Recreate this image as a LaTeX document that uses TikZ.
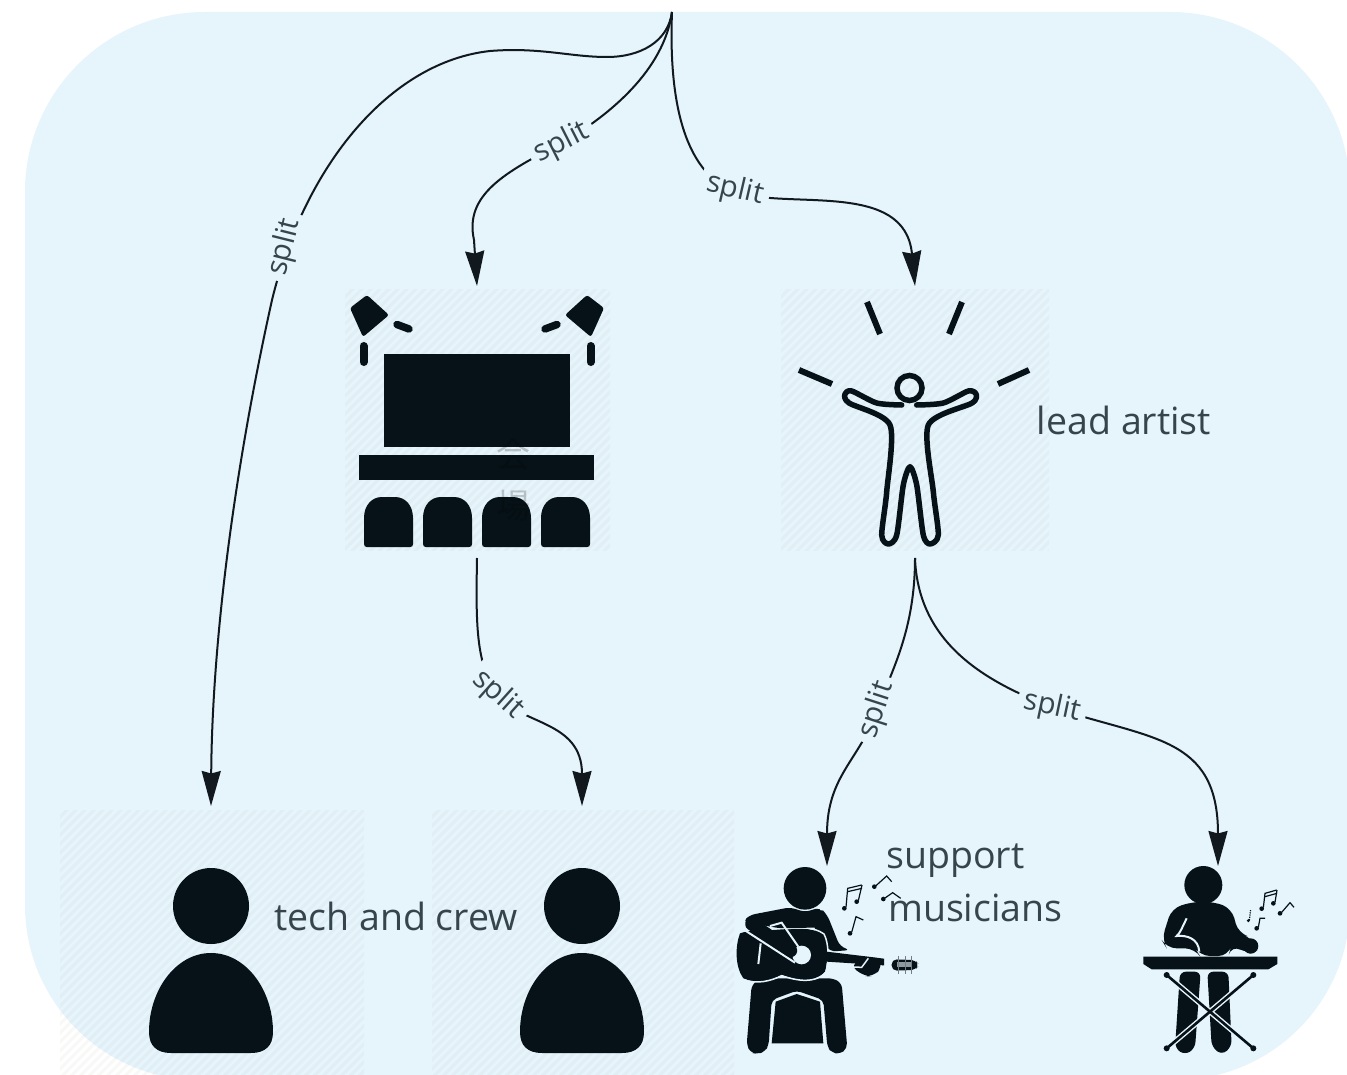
\documentclass[tikz,border=0pt]{standalone}
\usepackage{fontspec}
\setmainfont{Open Sans}
\newfontfamily\cjkfont{Noto Sans CJK JP}
\usetikzlibrary{arrows.meta}
\definecolor{panel}{HTML}{E6F4FC}
\definecolor{ink}{HTML}{061218}
\definecolor{wire}{HTML}{11191E}
\definecolor{label}{HTML}{36444C}
\definecolor{hatchc}{HTML}{A89F90}
\newcommand{\hatchbox}[4]{%
  \begin{scope}
    \clip (#1,#2) rectangle (#3,#4);
    \foreach \k in {0,9,...,1500}{
      \draw[hatchc,opacity=.07,line width=3pt] ({#1+\k},#2-2) -- ({#1+\k-400},#2+398);
    }
  \end{scope}}
\newcommand{\singlenote}[6]{%
  \fill[ink] (#1,#2) circle (7);
  \draw[ink,line width=1.2pt] (#1+5,#2-3) -- (#3,#4) -- (#5,#6);}
\tikzset{
  conn/.style={draw=wire,line width=2pt,-{Stealth[length=35pt,width=19pt,inset=2.5pt]}},
  tile/.style={draw=none,fill=none,inner sep=0pt,outer sep=0pt},
  splitlabel/.style={fill=panel,text=label,font=\fontsize{29.5}{32}\selectfont,inner xsep=6pt,inner ysep=2pt},
  biglabel/.style={text=label,font=\fontsize{37.5}{42}\selectfont,inner sep=0pt},
  faintlabel/.style={text=black,text opacity=.2,font=\fontsize{34}{36}\cjkfont,inner sep=0pt},
  gap/.style={draw=panel,line width=1.5pt}
}
\begin{document}
\begin{tikzpicture}[x=1pt,y=-1pt]
\useasboundingbox (0,0) rectangle (1347,1075);
\fill[white] (0,0) rectangle (1347,1075);
% panel
\fill[panel] (205,12) -- (1170,12) arc[start angle=-90,end angle=0,radius=180] -- (1350,905)
  arc[start angle=0,end angle=90,radius=175] -- (200,1080)
  arc[start angle=90,end angle=180,radius=175] -- (25,192)
  arc[start angle=180,end angle=270,radius=180] -- cycle;
% hatch tiles
\hatchbox{345}{290}{610}{550}
\hatchbox{781}{290}{1049}{550}
\hatchbox{60}{810}{364}{1075}
\hatchbox{432}{810}{734}{1075}
% anchors
\coordinate (root) at (672,12);
\node[tile,minimum width=265pt,minimum height=272pt] (venue) at (477,422) {};
\node[tile,minimum width=268pt,minimum height=272pt] (artist) at (915,422) {};
\node[tile,minimum width=302pt,minimum height=270pt] (crewa) at (211,941) {};
\node[tile,minimum width=302pt,minimum height=270pt] (crewb) at (582,941) {};
\node[tile,minimum width=184pt,minimum height=190pt] (guitarist) at (827,961) {};
\node[tile,minimum width=144pt,minimum height=190pt] (keyboardist) at (1218,961) {};
% connectors
\draw[conn] (root) .. controls (668,42) and (640,57) .. (607,57)
  .. controls (570,57) and (540,47) .. (490,51)
  .. controls (390,62) and (305,165) .. (272,300)
  .. controls (232,480) and (212,650) .. (crewa.north);
\draw[conn] (root) .. controls (664,70) and (610,115) .. (562,143)
  .. controls (505,172) and (464,195) .. (474,240) -- (venue.north);
\draw[conn] (root) .. controls (668,115) and (690,175) .. (735,192)
  .. controls (790,210) and (905,180) .. (artist.north);
\draw[conn] (venue.south) .. controls (476,620) and (475,665) .. (498,695)
  .. controls (520,725) and (582,720) .. (crewb.north);
\draw[conn] (artist.south) .. controls (915,630) and (892,670) .. (877,710)
  .. controls (860,760) and (827,775) .. (guitarist.north);
\draw[conn] (artist.south) .. controls (918,640) and (980,680) .. (1052,707)
  .. controls (1150,740) and (1218,735) .. (keyboardist.north);
% connector labels
\node[splitlabel,rotate=76] (s1) at (285,247) {split};
\node[splitlabel,rotate=27] (s2) at (562,143) {split};
\node[splitlabel,rotate=-13] (s3) at (735,190) {split};
\node[splitlabel,rotate=-42] (s4) at (498,695) {split};
\node[splitlabel,rotate=72] (s5) at (877,710) {split};
\node[splitlabel,rotate=-12] (s6) at (1052,707) {split};
% venue icon
\begin{scope}
  \foreach \m/\o in {1/0,-1/954}{
    \begin{scope}[xshift=\o pt,xscale=\m]
      \fill[ink,rounded corners=2.5pt] (350,308) -- (367,295) -- (389,315) -- (363,337) -- cycle;
      \draw[ink,line width=7.5pt,line cap=round] (397,324.5) -- (409,329);
      \draw[ink,line width=8pt,line cap=round] (363.5,346) -- (363.5,362);
    \end{scope}
  }
  \fill[ink] (384,354) rectangle (570,447);
  \fill[ink] (359,455) rectangle (594,480);
  \foreach \s in {364,423,482,541}{
    \fill[ink] (\s+3,547) .. controls (\s+1,547) and (\s,546) .. (\s,544) -- (\s,518)
      .. controls (\s,505) and (\s+8,497) .. (\s+18,497) -- (\s+31,497)
      .. controls (\s+41,497) and (\s+49,505) .. (\s+49,518) -- (\s+49,544)
      .. controls (\s+49,546) and (\s+48,547) .. (\s+46,547) -- cycle;
  }
\end{scope}
% artist icon
\foreach \a/\b/\c/\d in {867/302/880/334, 962/302/949/334, 799/370/832/384, 1029/370/998/384}{
  \draw[ink,line width=6pt] (\a,\b) -- (\c,\d);
}
\draw[ink,line width=5.5pt] (909.5,388) circle (12.5);
\draw[ink,line width=5.5pt,line join=round,line cap=round] plot[smooth,tension=.45] coordinates {
 (901.7,405) (876.7,403) (851.7,391) (845,394) (849,403) (890,425) (886.7,491.7) (881.7,535) (888.3,544) (896.7,535)
 (903.3,485) (910,466.7) (916.7,485) (923.3,535) (930,544) (938.3,535) (933.3,491.7) (928.3,425)
 (972,403) (976,394) (968.3,391) (943.3,403) (916.7,405)};
% crew icons
\foreach \c in {211,582}{
  \fill[ink] (\c,906) circle (38);
  \fill[ink] (\c-62,1032) .. controls (\c-62,990) and (\c-35,953) .. (\c,953)
    .. controls (\c+35,953) and (\c+62,990) .. (\c+62,1032)
    .. controls (\c+62,1046) and (\c+54,1053) .. (\c+40,1053) -- (\c-40,1053)
    .. controls (\c-54,1053) and (\c-62,1046) .. (\c-62,1032) -- cycle;
}
% guitarist icon (zoom coordinates)
\begin{scope}[shift={(730,850)},scale=1/3]
  \fill[ink] (225,115) circle (64);
  % legs and stool
  \fill[ink,rounded corners=5pt] (65,405) -- (50,585) -- (62,608) -- (82,612) -- (105,605) -- (116,585) -- (125,450) -- (200,422) -- (280,450) -- (292,590) -- (305,608) -- (330,612) -- (352,595) -- (335,400) -- (310,385) -- (90,385) -- cycle;
  \fill[ink] (137,455) -- (200,432) -- (270,455) -- (280,580) -- (125,580) -- cycle;
  % arm behind, fretting hand
  \fill[ink,rounded corners=6pt] (270,172) -- (292,195) -- (330,290) -- (362,300) -- (300,305) -- (250,240) -- cycle;
  \fill[ink,rounded corners=8pt] (360,345) -- (415,322) -- (450,325) -- (458,350) -- (430,380) -- (400,378) -- cycle;
  % guitar body
  \fill[ink] (30,250) .. controls (15,290) and (15,350) .. (40,385) .. controls (80,405) and (125,390) .. (155,375)
    .. controls (185,385) and (250,405) .. (285,365) .. controls (295,330) and (295,280) .. (280,255)
    .. controls (250,230) and (200,235) .. (130,240) .. controls (90,240) and (60,240) .. (30,250) -- cycle;
  \draw[gap] (40,388) .. controls (80,405) and (125,392) .. (155,377) .. controls (185,387) and (250,407) .. (288,367) .. controls (297,330) and (297,280) .. (282,252) .. controls (250,228) and (200,233) .. (170,236);
  % neck and head
  \fill[ink] (290,305) -- (415,320) -- (462,326) -- (462,346) -- (290,335) -- cycle;
  \draw[gap] (345,350) -- (395,352) -- (415,325);
  \fill[ink,rounded corners=5pt] (485,328) -- (555,330) -- (568,345) -- (555,360) -- (485,362) -- cycle;
  \fill[panel!60!ink] (500,336) rectangle (545,352);
  \foreach \p in {505,525,543}{\draw[ink!55,line width=1pt] (\p,318) -- (\p,372);}
  % torso
  \fill[ink,rounded corners=5pt] (38,215) -- (60,195) -- (180,172) -- (225,186) -- (272,172) -- (285,232) -- (150,235) -- cycle;
  % strumming arm over the sound hole
  \fill[panel] (215,315) circle (28);
  \draw[panel,line width=2pt] (40,238) -- (195,338);
  \draw[panel,line width=2pt] (120,228) -- (155,218) -- (205,290);
  \draw[panel,line width=2pt] (92,280) -- (85,342);
  \draw[ink,line width=13pt,line cap=round] (65,222) -- (182,302);
  % notes
  \singlenote{343}{175}{353}{115}{395}{105}
  \fill[ink] (380,155) circle (7);
  \draw[ink,line width=1.2pt] (385,152) -- (396,105);
  \draw[ink,line width=1.2pt] (353,125) -- (396,115);
  \singlenote{360}{250}{378}{200}{400}{210}
  \singlenote{433}{110}{470}{78}{485}{95}
  \singlenote{460}{147}{488}{128}{512}{145}
\end{scope}
% keyboardist icon (zoom coordinates)
\begin{scope}[shift={(1130,850)},scale=1/3]
  \fill[ink] (220,105) circle (57);
  % torso and arms
  \fill[ink,rounded corners=10pt] (125,175) -- (190,155) -- (250,155) -- (305,175) -- (325,250) -- (365,262) -- (385,300) -- (355,312) -- (305,285) -- (295,318) -- (210,318) -- (195,295) -- (110,295) -- (95,270) -- cycle;
  \fill[ink] (362,288) circle (23);
  \draw[panel,line width=2pt] (170,205) .. controls (155,235) and (150,250) .. (140,258) .. controls (170,255) and (205,265) .. (208,305);
  \fill[ink,rounded corners=6pt] (150,365) -- (212,365) -- (195,595) -- (165,615) -- (135,595) -- cycle;
  \fill[ink,rounded corners=6pt] (232,365) -- (295,365) -- (305,590) -- (275,615) -- (245,590) -- cycle;
  \draw[panel,line width=5.5pt] (110,375) -- (370,595) (370,375) -- (110,595);
  \draw[ink,line width=2.6pt] (110,375) -- (370,595) (370,375) -- (110,595);
  \foreach \px/\py in {110/375,370/375,110/595,370/595}{\fill[ink] (\px,\py) circle (9);}
  \fill[ink] (40,320) -- (442,320) -- (442,342) -- (415,358) -- (65,358) -- (40,342) -- cycle;
  % notes
  \singlenote{395}{176}{405}{130}{440}{120}
  \fill[ink] (430,160) circle (7);
  \draw[ink,line width=1.2pt] (435,157) -- (441,120);
  \draw[ink,line width=1.2pt] (405,140) -- (441,130);
  \singlenote{450}{190}{480}{158}{492}{172}
  \singlenote{380}{235}{390}{205}{405}{205}
  \fill[ink] (355,212) circle (5);
  \draw[ink,line width=1.2pt,densely dotted] (358,210) -- (362,178);
\end{scope}
% texts
\node[faintlabel] (vl1) at (513,455) {会};
\node[faintlabel] (vl2) at (513,506) {場};
\node[biglabel] (lead) at (1124,420) {lead artist};
\node[biglabel] (techcrew) at (396,916) {tech and crew};
\node[biglabel,anchor=west] (supp) at (886,861) {support};
\node[biglabel,anchor=west] (musi) at (888,908) {musicians};
\end{tikzpicture}
\end{document}
